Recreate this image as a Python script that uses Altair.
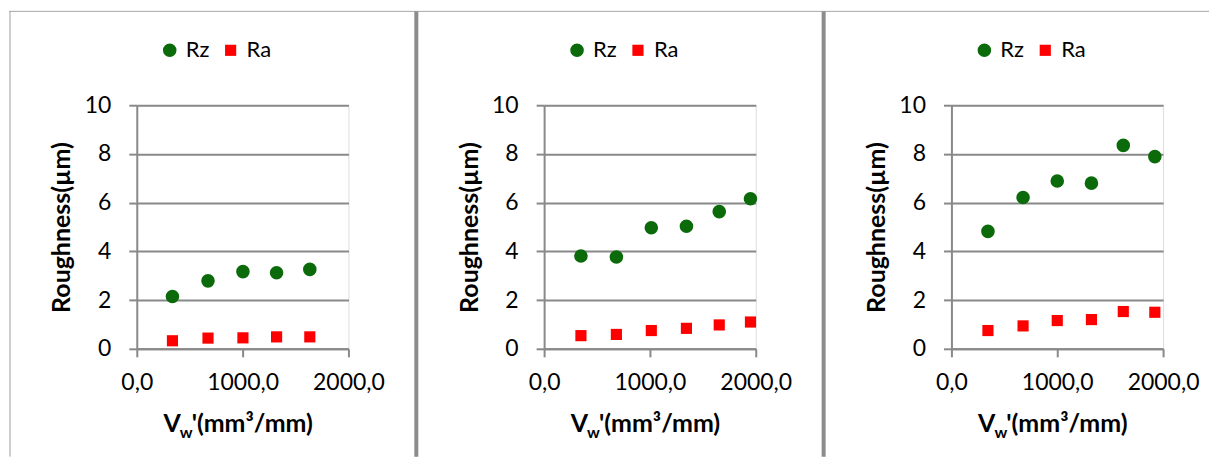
import altair as alt
import pandas as pd

# ---- data ----
series_names = ["Rz", "Ra"]

p1_vw = [337, 673, 1003, 1321, 1635]
p1_rz = [2.15, 2.79, 3.17, 3.12, 3.26]
p1_ra = [0.33, 0.44, 0.45, 0.49, 0.49]

p2_vw = [348, 683, 1013, 1345, 1655, 1950]
p2_rz = [3.81, 3.77, 4.97, 5.03, 5.63, 6.16]
p2_ra = [0.54, 0.59, 0.75, 0.84, 0.98, 1.10]

p3_vw = [345, 677, 1000, 1323, 1624, 1922]
p3_rz = [4.82, 6.21, 6.89, 6.80, 8.35, 7.89]
p3_ra = [0.75, 0.94, 1.16, 1.20, 1.53, 1.50]

x_ticks = [0, 1000, 2000]
y_ticks = [0, 2, 4, 6, 8, 10]

y_title = "Roughness(µm)"
x_title_main = "V"
x_title_sub = "w"
x_title_rest = "'(mm³/mm)"

GREEN = "#0b6b0b"
RED = "#ff0000"
GRID = "#898989"
FONT = "Lato"
LBL = 23
TTL = 25

W, H = 212, 244


def make_df(vw, rz, ra):
    rows = []
    for v, z in zip(vw, rz):
        rows.append({"vw": v, "value": z, "series": "Rz"})
    for v, a in zip(vw, ra):
        rows.append({"vw": v, "value": a, "series": "Ra"})
    return pd.DataFrame(rows)


dummy = alt.Data(values=[{"k": 1}])


def legend_def():
    return alt.Legend(
        title=None,
        orient="none",
        legendX=22,
        legendY=-66,
        direction="horizontal",
        labelFontSize=22,
        labelFont=FONT,
        labelColor="#000000",
        labelOffset=5,
        columnPadding=10,
        symbolSize=165,
        padding=0,
    )


def panel(vw, rz, ra, idx):
    df = make_df(vw, rz, ra)
    points = alt.Chart(df).mark_point(filled=True, opacity=1).encode(
        x=alt.X(
            "vw:Q",
            scale=alt.Scale(domain=[0, 2000], nice=False, zero=True),
            axis=alt.Axis(
                values=x_ticks,
                labelExpr="replace(format(datum.value, '.1f'), '.', ',')",
                title=None,
                grid=False,
                tickSize=8,
                labelPadding=15,
                labelFontSize=LBL,
                labelColor="#000000",
                labelFont=FONT,
                domainColor=GRID,
                domainWidth=2,
                tickColor=GRID,
                tickWidth=2,
                labelFlush=False,
                labelOverlap=False,
            ),
        ),
        y=alt.Y(
            "value:Q",
            scale=alt.Scale(domain=[0, 10], nice=False),
            axis=alt.Axis(
                values=y_ticks,
                title=y_title,
                titleFontSize=TTL,
                titleFont=FONT,
                titleFontWeight="bold",
                titleColor="#000000",
                titleX=-75,
                titleY=H / 2,
                titleAngle=270,
                titleAlign="center",
                titleBaseline="middle",
                grid=True,
                gridColor=GRID,
                gridWidth=2,
                tickSize=8,
                labelPadding=18,
                labelFontSize=LBL,
                labelColor="#000000",
                labelFont=FONT,
                domainColor=GRID,
                domainWidth=2,
                tickColor=GRID,
                tickWidth=2,
                labelFlush=False,
                labelOverlap=False,
            ),
        ),
        color=alt.Color(
            "series:N",
            scale=alt.Scale(domain=series_names, range=[GREEN, RED]),
            legend=legend_def(),
        ),
        shape=alt.Shape(
            "series:N",
            scale=alt.Scale(domain=series_names, range=["circle", "square"]),
            legend=legend_def(),
        ),
        size=alt.Size(
            "series:N",
            scale=alt.Scale(domain=series_names, range=[185, 125]),
            legend=None,
        ),
    )

    right_end = 280 if idx < 2 else 258
    top_rule = alt.Chart(dummy).mark_rule(color="#a6a6a6", strokeWidth=1).encode(
        x=alt.value(-128), x2=alt.value(right_end), y=alt.value(-94), y2=alt.value(-94)
    )
    if idx == 0:
        side_rule = alt.Chart(dummy).mark_rule(color="#a0a0a0", strokeWidth=1).encode(
            x=alt.value(-127), y=alt.value(-94), y2=alt.value(352)
        )
    else:
        side_rule = alt.Chart(dummy).mark_rule(color="#8c8c8c", strokeWidth=4).encode(
            x=alt.value(-128), y=alt.value(-94), y2=alt.value(352)
        )

    t_main = alt.Chart(dummy).mark_text(
        font=FONT, fontSize=TTL, fontWeight="bold", align="right", baseline="alphabetic", color="#000000"
    ).encode(x=alt.value(44), y=alt.value(327), text=alt.value(x_title_main))
    t_sub = alt.Chart(dummy).mark_text(
        font=FONT, fontSize=16, fontWeight="bold", align="center", baseline="alphabetic", color="#000000"
    ).encode(x=alt.value(49.5), y=alt.value(333), text=alt.value(x_title_sub))
    t_rest = alt.Chart(dummy).mark_text(
        font=FONT, fontSize=TTL, fontWeight="bold", align="left", baseline="alphabetic", color="#000000"
    ).encode(x=alt.value(55), y=alt.value(327), text=alt.value(x_title_rest))

    layered = alt.layer(top_rule, side_rule, points, t_main, t_sub, t_rest).properties(
        width=W, height=H
    )
    return layered


charts = [
    panel(p1_vw, p1_rz, p1_ra, 0),
    panel(p2_vw, p2_rz, p2_ra, 1),
    panel(p3_vw, p3_rz, p3_ra, 2),
]

chart = (
    alt.hconcat(*charts, spacing=196, bounds="flush")
    .resolve_scale(color="independent", shape="independent", size="independent",
                   x="independent", y="independent")
    .resolve_legend(color="independent", shape="independent", size="independent")
    .properties(padding={"left": 0, "top": 0, "right": 0, "bottom": 0}, background="#ffffff")
    .configure_view(stroke=None)
    .configure(font=FONT)
)

chart.save("out.html", embed_options={"renderer": "svg", "actions": False})
